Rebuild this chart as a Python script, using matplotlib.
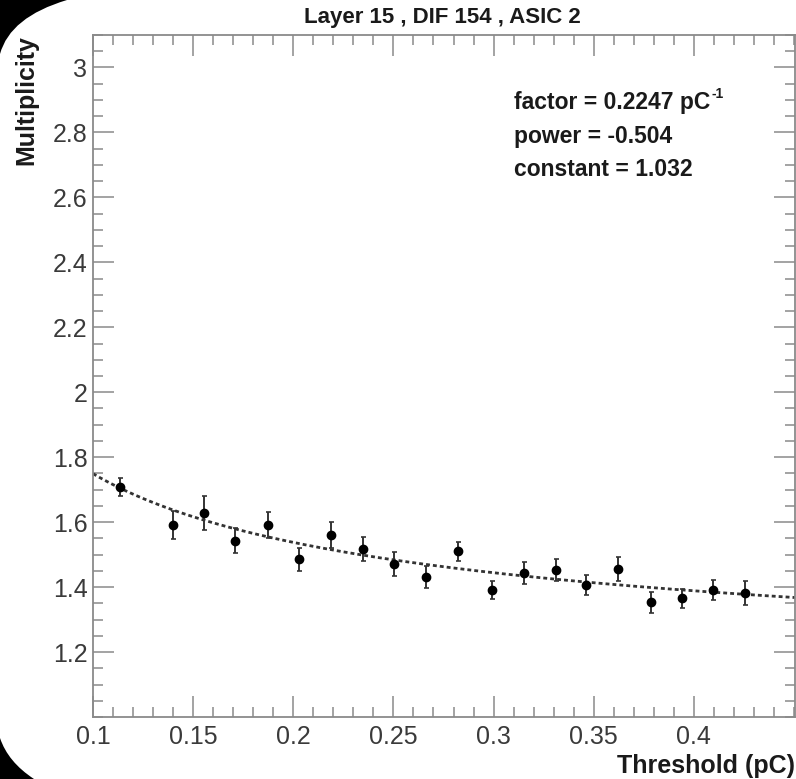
import numpy as np
import matplotlib
matplotlib.use("Agg")
import matplotlib.pyplot as plt
from matplotlib.path import Path
from matplotlib.patches import PathPatch
from matplotlib.ticker import MultipleLocator, FixedLocator

plt.rcParams['font.family'] = ['Liberation Sans', 'DejaVu Sans']

# ---- data ----
threshold = [0.1135, 0.1398, 0.1555, 0.1710, 0.1873, 0.2027, 0.2188, 0.2347,
             0.2502, 0.2662, 0.2822, 0.2993, 0.3152, 0.3310, 0.3463, 0.3622,
             0.3785, 0.3943, 0.4098, 0.4257]
multiplicity = [1.709, 1.591, 1.628, 1.543, 1.591, 1.485, 1.560, 1.518,
                1.471, 1.430, 1.510, 1.391, 1.443, 1.453, 1.407, 1.456,
                1.353, 1.366, 1.392, 1.381]
mult_err = [0.027, 0.043, 0.051, 0.038, 0.040, 0.036, 0.041, 0.037,
            0.036, 0.034, 0.029, 0.029, 0.033, 0.035, 0.031, 0.037,
            0.032, 0.029, 0.031, 0.037]

# fit parameters shown on the chart: M = constant + factor * T^power
fit_factor = 0.2247
fit_power = -0.504
fit_constant = 1.032

x_ticks = [0.1, 0.15, 0.2, 0.25, 0.3, 0.35, 0.4]
x_ticklabels = ["0.1", "0.15", "0.2", "0.25", "0.3", "0.35", "0.4"]
y_ticks = [1.2, 1.4, 1.6, 1.8, 2.0, 2.2, 2.4, 2.6, 2.8, 3.0]
y_ticklabels = ["1.2", "1.4", "1.6", "1.8", "2", "2.2", "2.4", "2.6", "2.8", "3"]

title = "Layer 15 , DIF 154 , ASIC 2"
xlabel = "Threshold (pC)"
ylabel = "Multiplicity"

W, H = 796, 779
fig = plt.figure(figsize=(W / 100, H / 100), dpi=100)
fig.patch.set_facecolor('white')

L, R, T, B = 93, 795, 35, 717
ax = fig.add_axes([L / W, 1 - B / H, (R - L) / W, (B - T) / H])

xlim = (0.1, 0.4505)
ylim = (1.0, 3.1)
ax.set_xlim(*xlim)
ax.set_ylim(*ylim)

# fit curve
xf = np.linspace(xlim[0], xlim[1], 400)
yf = fit_constant + fit_factor * xf ** fit_power
ax.plot(xf, yf, color='#333333', lw=2.0, linestyle=(0, (1.4, 1.1)), zorder=2)

# data with errors
ax.errorbar(threshold, multiplicity, yerr=mult_err, fmt='o', color='black',
            ecolor='#333333', elinewidth=1.4, capsize=1.8, capthick=1.2,
            markersize=6, zorder=3)

gray = '#8a8a8a'
for s in ax.spines.values():
    s.set_color(gray)
    s.set_linewidth(1.3)

ax.xaxis.set_major_locator(FixedLocator(x_ticks))
ax.set_xticklabels(x_ticklabels)
ax.xaxis.set_minor_locator(MultipleLocator(0.01))
ax.yaxis.set_major_locator(FixedLocator(y_ticks))
ax.set_yticklabels(y_ticklabels)
ax.yaxis.set_minor_locator(MultipleLocator(0.05))

ax.tick_params(which='both', direction='in', top=True, right=True,
               color=gray, width=1.1, labelcolor='#3a3a3a', labelsize=18)
ax.tick_params(which='major', length=15)
ax.tick_params(which='minor', length=7.5)
ax.tick_params(axis='x', which='major', pad=6)
ax.tick_params(axis='y', which='major', pad=4)

fig.text(442 / W, 1 - 17 / H, title, ha='center', va='center',
         fontsize=16, fontweight='bold', color='#1a1a1a')
fig.text(795 / W, 1 - 766 / H, xlabel, ha='right', va='center',
         fontsize=18, fontweight='bold', color='#1a1a1a')
fig.text(26 / W, 1 - 35 / H, ylabel, ha='center', va='top', rotation=90,
         fontsize=18, fontweight='bold', color='#1a1a1a')

stats = ["factor = 0.2247 pC",
         f"power = {fit_power}",
         f"constant = {fit_constant}"]
texts = []
for i, s in enumerate(stats):
    t = fig.text(514 / W, 1 - (103 + 33.5 * i) / H, s, ha='left', va='center',
                 fontsize=16.5, fontweight='bold', color='#1a1a1a')
    texts.append(t)

fig.canvas.draw()
bb = texts[0].get_window_extent(fig.canvas.get_renderer())
fig.text(bb.x1 / W + 1 / W, (bb.y1 + 4) / H, "-1", ha='left', va='top',
         fontsize=10, fontweight='bold', color='#1a1a1a')

# black rounded-screen corners
def corner(pts):
    verts = [(x / W, 1 - y / H) for x, y in pts]
    codes = [Path.MOVETO, Path.LINETO, Path.CURVE3, Path.CURVE3, Path.CLOSEPOLY]
    p = PathPatch(Path(verts + [verts[0]], codes), transform=fig.transFigure,
                  facecolor='black', edgecolor='none', zorder=10)
    fig.patches.append(p)

corner([(0, 0), (67, 0), (10, 17), (0, 54)])
corner([(0, 779), (0, 738), (8, 762), (34, 779)])

fig.savefig("out.png", dpi=100, facecolor='white')
